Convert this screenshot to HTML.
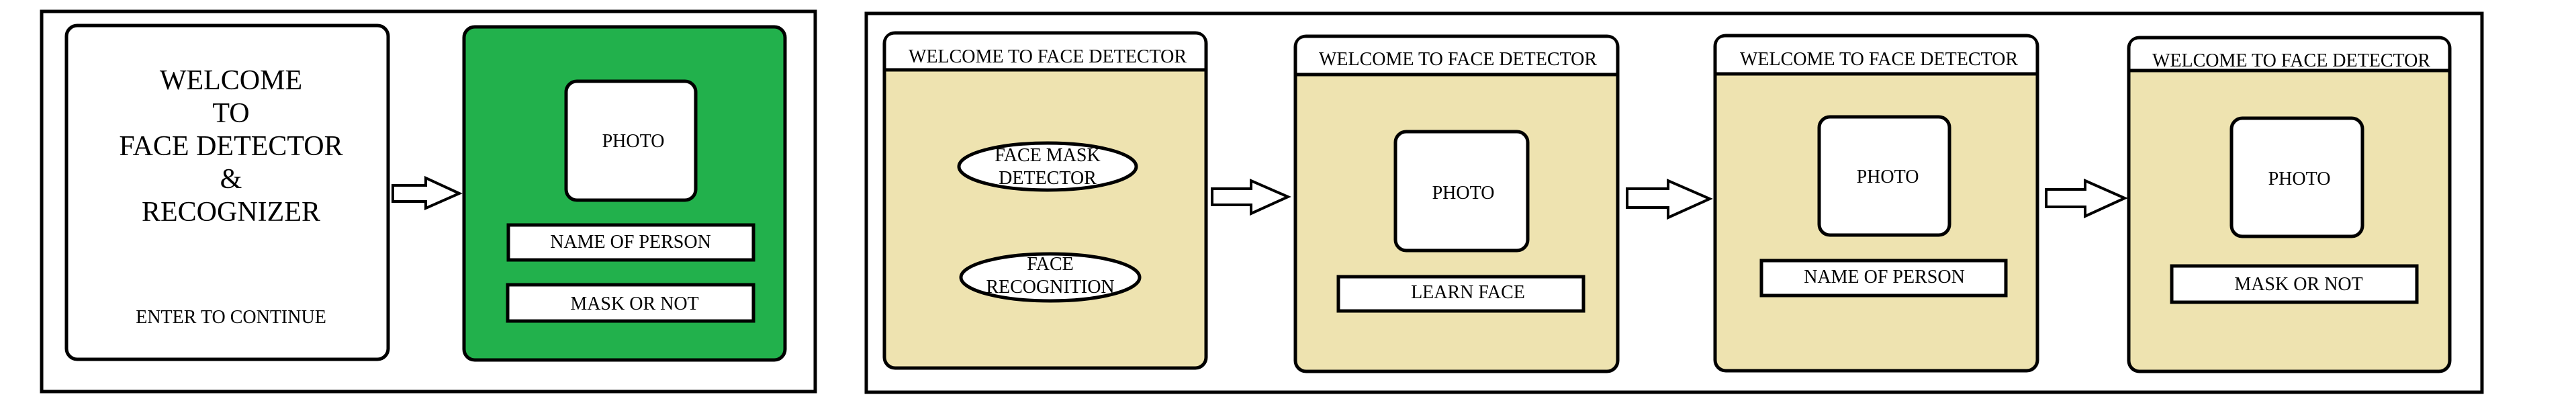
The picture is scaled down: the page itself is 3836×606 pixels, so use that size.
<!DOCTYPE html>
<html><head><meta charset="utf-8"><style>html,body{margin:0;padding:0;background:#fff;}svg{display:block}svg text{font-family:"Liberation Serif","Times New Roman",serif;}</style></head>
<body>
<svg width="3836" height="606" viewBox="0 0 3836 606" xmlns="http://www.w3.org/2000/svg" text-anchor="middle">
<g fill="none" stroke="#000" stroke-width="5">
<rect x="62" y="17" width="1152" height="566"/>
<rect x="1290" y="20" width="2406" height="564"/>
</g>
<!-- left group -->
<rect x="99" y="38" width="479" height="497" rx="16" fill="#fff" stroke="#000" stroke-width="5"/>
<g font-size="42" fill="#000">
<text x="344" y="133">WELCOME</text>
<text x="344" y="182">TO</text>
<text x="344" y="231">FACE DETECTOR</text>
<text x="344" y="280">&amp;</text>
<text x="344" y="329">RECOGNIZER</text>
</g>
<text x="344" y="481" font-size="28">ENTER TO CONTINUE</text>
<path d="M585,276 H634 V265 L684,288 L634,310 V300 H585 Z" fill="#fff" stroke="#000" stroke-width="4"/>
<rect x="691" y="40" width="478" height="496" rx="16" fill="#22b14c" stroke="#000" stroke-width="5"/>
<rect x="843" y="121" width="193" height="177" rx="16" fill="#fff" stroke="#000" stroke-width="5"/>
<text x="943" y="219" font-size="28">PHOTO</text>
<rect x="757" y="335" width="365" height="52" fill="#fff" stroke="#000" stroke-width="5"/>
<text x="939" y="369" font-size="28">NAME OF PERSON</text>
<rect x="756" y="424" width="366" height="54" fill="#fff" stroke="#000" stroke-width="5"/>
<text x="945" y="461" font-size="28">MASK OR NOT</text>

<!-- panel 1 -->
<rect x="1317" y="49" width="479" height="499" rx="16" fill="#eee3b0" stroke="#000" stroke-width="5"/>
<path d="M1319.5,104 V65 Q1319.5,51.5 1333,51.5 H1780 Q1793.5,51.5 1793.5,65 V104 Z" fill="#fff"/>
<line x1="1317" y1="104" x2="1796" y2="104" stroke="#000" stroke-width="5"/>
<text x="1560" y="93" font-size="28">WELCOME TO FACE DETECTOR</text>
<ellipse cx="1560" cy="248" rx="132" ry="35" fill="#fff" stroke="#000" stroke-width="5"/>
<text x="1560" y="240" font-size="28">FACE MASK</text>
<text x="1560" y="274" font-size="28">DETECTOR</text>
<ellipse cx="1564" cy="413" rx="133" ry="35" fill="#fff" stroke="#000" stroke-width="5"/>
<text x="1564" y="402" font-size="28">FACE</text>
<text x="1564" y="436" font-size="28">RECOGNITION</text>
<path d="M1805,281 H1863 V269 L1918,293 L1863,318 V305 H1805 Z" fill="#fff" stroke="#000" stroke-width="4"/>

<!-- panel 2 -->
<rect x="1929" y="54" width="480" height="499" rx="16" fill="#eee3b0" stroke="#000" stroke-width="5"/>
<path d="M1931.5,111 V70 Q1931.5,56.5 1945,56.5 H2393 Q2406.5,56.5 2406.5,70 V111 Z" fill="#fff"/>
<line x1="1929" y1="111" x2="2409" y2="111" stroke="#000" stroke-width="5"/>
<text x="2171" y="97" font-size="28">WELCOME TO FACE DETECTOR</text>
<rect x="2078" y="196" width="197" height="177" rx="16" fill="#fff" stroke="#000" stroke-width="5"/>
<text x="2179" y="296" font-size="28">PHOTO</text>
<rect x="1993" y="412" width="365" height="51" fill="#fff" stroke="#000" stroke-width="5"/>
<text x="2186" y="444" font-size="28">LEARN FACE</text>
<path d="M2423,281 H2484 V269 L2546,296 L2484,324 V309 H2423 Z" fill="#fff" stroke="#000" stroke-width="4"/>

<!-- panel 3 -->
<rect x="2554" y="53" width="480" height="499" rx="16" fill="#eee3b0" stroke="#000" stroke-width="5"/>
<path d="M2556.5,110 V69 Q2556.5,55.5 2570,55.5 H3018 Q3031.5,55.5 3031.5,69 V110 Z" fill="#fff"/>
<line x1="2554" y1="110" x2="3034" y2="110" stroke="#000" stroke-width="5"/>
<text x="2798" y="97" font-size="28">WELCOME TO FACE DETECTOR</text>
<rect x="2709" y="174" width="194" height="176" rx="16" fill="#fff" stroke="#000" stroke-width="5"/>
<text x="2811" y="272" font-size="28">PHOTO</text>
<rect x="2623" y="388" width="364" height="52" fill="#fff" stroke="#000" stroke-width="5"/>
<text x="2806" y="421" font-size="28">NAME OF PERSON</text>
<path d="M3047,282 H3105 V269 L3164,295 L3105,322 V308 H3047 Z" fill="#fff" stroke="#000" stroke-width="4"/>

<!-- panel 4 -->
<rect x="3170" y="56" width="478" height="497" rx="16" fill="#eee3b0" stroke="#000" stroke-width="5"/>
<path d="M3172.5,105 V72 Q3172.5,58.5 3186,58.5 H3632 Q3645.5,58.5 3645.5,72 V105 Z" fill="#fff"/>
<line x1="3170" y1="105" x2="3648" y2="105" stroke="#000" stroke-width="5"/>
<text x="3412" y="99" font-size="28">WELCOME TO FACE DETECTOR</text>
<rect x="3323" y="176" width="195" height="176" rx="16" fill="#fff" stroke="#000" stroke-width="5"/>
<text x="3424" y="275" font-size="28">PHOTO</text>
<rect x="3234" y="396" width="365" height="54" fill="#fff" stroke="#000" stroke-width="5"/>
<text x="3423" y="432" font-size="28">MASK OR NOT</text>
</svg>
</body></html>
